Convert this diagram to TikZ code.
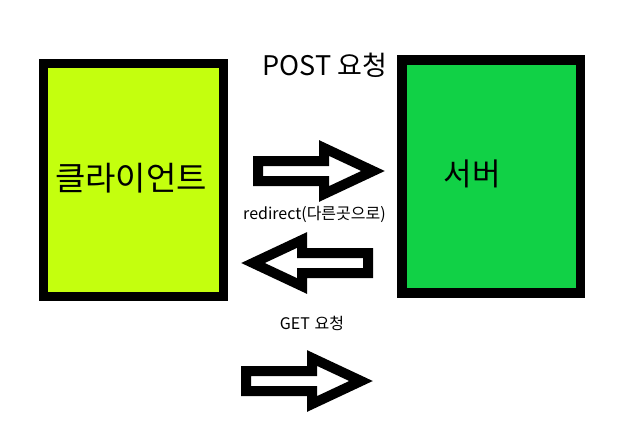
\documentclass[tikz,border=0pt]{standalone}
\usepackage{fontspec}
\newfontfamily\kr{Noto Sans CJK KR}
\usepackage{tikz}

\definecolor{clientlime}{RGB}{196,255,14}
\definecolor{servergreen}{RGB}{17,209,70}

\tikzset{
	box/.style={draw=black, line width=9.5pt, minimum width=180pt, minimum height=233pt, inner sep=0pt, outer sep=0pt},
	fatarrow/.style={draw=black, fill=white, line width=10pt},
	bigtext/.style={font=\kr\fontsize{32}{38}\selectfont},
	midtext/.style={font=\kr\fontsize{27}{32}\selectfont},
	smalltext/.style={font=\kr\fontsize{16}{19}\selectfont}
}

\begin{document}
\begin{tikzpicture}[x=1pt, y=-1pt]
\useasboundingbox (0,0) rectangle (636,447);

% client and server
\node[box, fill=clientlime] (client) at (133.5,180) {};
\node[box, fill=servergreen, minimum width=178.5pt] (server) at (491,176.5) {};
\node[bigtext, font=\kr\fontsize{33}{40}\selectfont] (clientname) at (131,178) {클라이언트};
\node[bigtext, font=\kr\fontsize{31}{37}\selectfont] (servername) at (472,174) {서버};

% requests
\node[midtext] (post) at (325,65) {POST 요청};
\draw[fatarrow] (258,161) -- (324,161) -- (324,148) -- (373,171) -- (324,194) -- (324,181) -- (258,181) -- cycle;
\node[smalltext] (redirect) at (314.5,214) {redirect(다른곳으로)};
\draw[fatarrow] (368,253) -- (302,253) -- (302,240) -- (253,263) -- (302,286) -- (302,273) -- (368,273) -- cycle;
\node[smalltext] (get) at (312,323) {GET\hspace{0.3em}요청};
\draw[fatarrow] (246,371) -- (312,371) -- (312,358) -- (361,381) -- (312,404) -- (312,391) -- (246,391) -- cycle;
\end{tikzpicture}
\end{document}
